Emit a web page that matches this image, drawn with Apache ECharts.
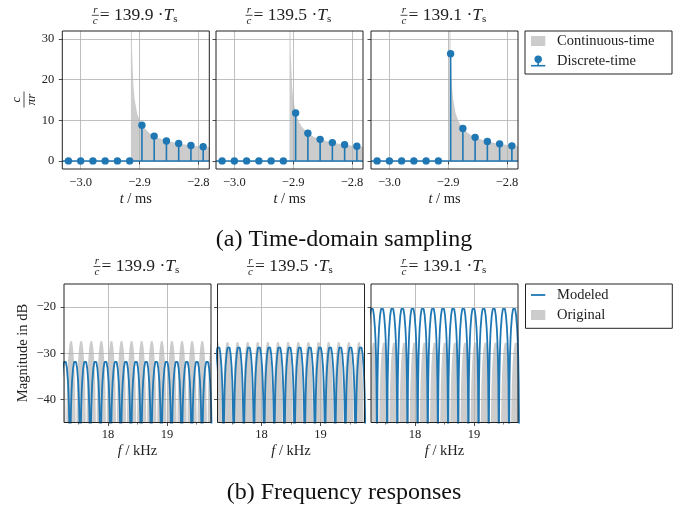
<!DOCTYPE html>
<html>
<head>
<meta charset="utf-8">
<title>Sampling and frequency responses</title>
<style>
  body { margin: 0; padding: 0; background: #fff; }
  #chart { width: 688px; height: 510px; }
</style>
</head>
<body>
<div id="chart"></div>
<script src="https://cdn.jsdelivr.net/npm/echarts@6/dist/echarts.min.js"></script>
<script>
var BLUE = '#1f77b4';
var GRAY = '#cccccc';
var INK = '#222';
var FONT = 'Liberation Serif';

// r/c of each column, in samples
var delayLabels = ['139.9', '139.5', '139.1'];
var delayValues = [139.9, 139.5, 139.1];

// (a) time domain
var fs = 48; // kHz -> samples per ms
var sampleIndex = [-145, -144, -143, -142, -141, -140, -139, -138, -137, -136, -135, -134];
var discrete1 = [0, 0, 0, 0, 0, 0, 8.8, 6.1, 4.9, 4.3, 3.8, 3.5];
var discrete2 = [0, 0, 0, 0, 0, 0, 11.8, 6.8, 5.3, 4.5, 4.0, 3.6];
var discrete3 = [0, 0, 0, 0, 0, 0, 26.4, 8.0, 5.8, 4.8, 4.2, 3.7];
var discrete = [discrete1, discrete2, discrete3];
// continuous-time curve: samples after onset, value
var contOffset = [0, 0.001, 0.01, 0.02, 0.05, 0.1, 0.2, 0.3, 0.5, 0.75, 1, 1.5, 2, 3, 4, 5, 6, 7];
var contValue = [0, 100, 83.6, 59.1, 37.4, 26.5, 18.7, 15.3, 11.8, 9.7, 8.4, 6.9, 5.9, 4.9, 4.2, 3.8, 3.45, 3.2];
var timeTicks = [-3.0, -2.9, -2.8];
var ampTicks = [0, 10, 20, 30];

// (b) frequency responses, kHz / dB
var modeledNulls = [17.179, 17.352, 17.525, 17.697, 17.870, 18.043, 18.215, 18.388, 18.561, 18.733, 18.906, 19.079, 19.252, 19.424, 19.597, 19.770];
var modeledPeak = [-31.5, -28.4, -20.0];
var originalNulls1 = [17.112, 17.284, 17.455, 17.627, 17.799, 17.970, 18.142, 18.313, 18.485, 18.656, 18.828, 18.999, 19.171, 19.343, 19.514, 19.686, 19.857];
var originalNulls2 = [17.161, 17.333, 17.505, 17.677, 17.849, 18.021, 18.193, 18.365, 18.537, 18.710, 18.882, 19.054, 19.226, 19.398, 19.570, 19.742, 19.914];
var originalNulls3 = [17.211, 17.383, 17.556, 17.728, 17.901, 18.073, 18.246, 18.419, 18.591, 18.764, 18.936, 19.109, 19.281, 19.454, 19.626, 19.799];
var originalNulls = [originalNulls1, originalNulls2, originalNulls3];
var originalPeak = [-27.0, -27.2, -27.3];
// shape of one lobe: position between two nulls, dB below the peak
var lobeFrac = [0, 0.02, 0.05, 0.1, 0.15, 0.2, 0.3, 0.4, 0.5, 0.6, 0.7, 0.8, 0.85, 0.9, 0.95, 0.98];
var lobeDrop = [-60, -24, -16.1, -10.2, -6.9, -4.6, -1.8, -0.4, 0, -0.4, -1.8, -4.6, -6.9, -10.2, -16.1, -24];
var freqTicks = [18, 19];
var freqMinorTicks = [17.5, 18.5, 19.5];
var dbTicks = [-40, -30, -20];

var chart = echarts.init(document.getElementById('chart'), null, { renderer: 'canvas', width: 688, height: 510 });

var topLeft = [62.3, 216, 371];
var botLeft = [64, 217.5, 371];
var PW = 147;

function minus(v) { return String(v).replace('-', '\u2212'); }

function lobes(nulls, peak) {
    var out = [];
    for (var k = 0; k < nulls.length - 1; k++) {
        for (var j = 0; j < lobeFrac.length; j++) {
            out.push([nulls[k] + lobeFrac[j] * (nulls[k + 1] - nulls[k]), peak + lobeDrop[j]]);
        }
    }
    out.push([nulls[nulls.length - 1], peak + lobeDrop[0]]);
    return out;
}

function axis(gi, min, max, step, ticks, fmt, showLabel, margin) {
    return {
        type: 'value', gridIndex: gi, min: min, max: max,
        minInterval: step, maxInterval: step, z: 1,
        axisLine: { show: false },
        axisTick: { show: true, length: 3.5, customValues: ticks, lineStyle: { color: INK, width: 0.8 } },
        axisLabel: {
            show: showLabel, customValues: ticks, formatter: fmt, margin: margin,
            fontFamily: FONT, fontSize: 12.5, color: INK
        },
        splitLine: { show: true, lineStyle: { color: '#b0b0b0', width: 0.8 } }
    };
}

function renderStem(params, api) {
    var base = api.coord([api.value(0), 0]);
    var tip = api.coord([api.value(0), api.value(1)]);
    return {
        type: 'line',
        shape: { x1: base[0], y1: base[1], x2: tip[0], y2: tip[1] },
        style: { stroke: BLUE, lineWidth: 1.6 }
    };
}

var grids = [], xAxes = [], yAxes = [], series = [], graphics = [];

for (var i = 0; i < 3; i++) {
    grids.push({
        left: topLeft[i], top: 31, width: PW, height: 138, show: true, z: 10,
        backgroundColor: 'rgba(0,0,0,0)', borderColor: INK, borderWidth: 1
    });
}
for (i = 0; i < 3; i++) {
    grids.push({
        left: botLeft[i], top: 284, width: PW, height: 138.5, show: true, z: 10,
        backgroundColor: 'rgba(0,0,0,0)', borderColor: INK, borderWidth: 1
    });
}

// top row: time-domain sampling
for (i = 0; i < 3; i++) {
    xAxes.push(axis(i, -145.5 / fs, -133.5 / fs, 0.1, timeTicks,
        function (v) { return minus(v.toFixed(1)); }, true, 7));
    yAxes.push(axis(i, -2, 32, 10, ampTicks,
        function (v) { return minus(v); }, i === 0, 8));

    var t0 = delayValues[i];
    series.push({
        type: 'line', xAxisIndex: i, yAxisIndex: i, z: 0, silent: true,
        showSymbol: false, clip: true,
        lineStyle: { width: 0, opacity: 0 },
        itemStyle: { color: GRAY },
        areaStyle: { color: GRAY, opacity: 1 },
        data: contOffset.map(function (o, j) { return [(o - t0) / fs, contValue[j]]; })
    });
    var pts = sampleIndex.map(function (n, j) { return [n / fs, discrete[i][j]]; });
    series.push({
        type: 'custom', xAxisIndex: i, yAxisIndex: i, z: 2, silent: true, clip: true,
        renderItem: renderStem, data: pts
    });
    series.push({
        type: 'scatter', xAxisIndex: i, yAxisIndex: i, z: 4, silent: true,
        symbolSize: 7.4, itemStyle: { color: BLUE, opacity: 1 }, data: pts,
        markLine: {
            silent: true, symbol: ['none', 'none'], label: { show: false },
            lineStyle: { color: BLUE, width: 1.6, type: 'solid' },
            data: [{ yAxis: 0 }]
        }
    });
}

// bottom row: frequency responses
for (i = 0; i < 3; i++) {
    var gi = 3 + i;
    xAxes.push(axis(gi, 17.25, 19.75, 1, freqTicks, function (v) { return String(v); }, true, 6));
    yAxes.push(axis(gi, -45, -15, 10, dbTicks, function (v) { return minus(v); }, i === 0, 8));
    series.push({
        type: 'line', xAxisIndex: gi, yAxisIndex: gi, z: 0, silent: true,
        showSymbol: false, clip: true,
        lineStyle: { width: 0, opacity: 0 },
        itemStyle: { color: GRAY },
        areaStyle: { color: GRAY, opacity: 1, origin: 'start' },
        data: lobes(originalNulls[i], originalPeak[i])
    });
    series.push({
        type: 'line', xAxisIndex: gi, yAxisIndex: gi, z: 3, silent: true,
        showSymbol: false, clip: true,
        lineStyle: { color: BLUE, width: 1.8 },
        itemStyle: { color: BLUE },
        data: lobes(modeledNulls, modeledPeak[i])
    });
}
// minor frequency ticks
for (i = 0; i < 3; i++) {
    xAxes.push({
        type: 'value', gridIndex: 3 + i, min: 17.25, max: 19.75, position: 'bottom', z: 1,
        axisLine: { show: false },
        axisTick: { show: true, length: 2, customValues: freqMinorTicks, lineStyle: { color: INK, width: 0.6 } },
        axisLabel: { show: false },
        splitLine: { show: false }
    });
}

// panel titles: r/c = ... Ts
function addTitle(cx, ty, label) {
    var fx = cx - 40.5;
    graphics.push({ type: 'text', x: fx, y: ty - 5.5, style: { text: 'r', font: 'italic 11px ' + FONT, fill: INK, align: 'center', verticalAlign: 'middle' } });
    graphics.push({ type: 'text', x: fx, y: ty + 5.5, style: { text: 'c', font: 'italic 11px ' + FONT, fill: INK, align: 'center', verticalAlign: 'middle' } });
    graphics.push({ type: 'line', shape: { x1: fx - 3.5, y1: ty, x2: fx + 3.5, y2: ty }, style: { stroke: INK, lineWidth: 0.8 } });
    graphics.push({
        type: 'text', x: cx - 36, y: ty,
        style: {
            text: '= ' + label + ' \u00b7{i|T}{s|s}', font: '17.5px ' + FONT, fill: INK,
            align: 'left', verticalAlign: 'middle',
            rich: {
                i: { fontFamily: FONT, fontSize: 17.5, fontStyle: 'italic', fill: INK },
                s: { fontFamily: FONT, fontSize: 11, fill: INK, padding: [8, 0, 0, 0] }
            }
        }
    });
}

for (i = 0; i < 3; i++) {
    addTitle(topLeft[i] + PW / 2, 15.3, delayLabels[i]);
    addTitle(botLeft[i] + PW / 2, 266.5, delayLabels[i]);
    graphics.push({
        type: 'text', x: topLeft[i] + PW / 2, y: 199,
        style: { text: '{i|t} / ms', font: '14.5px ' + FONT, fill: INK, align: 'center', verticalAlign: 'middle',
            rich: { i: { fontFamily: FONT, fontSize: 14.5, fontStyle: 'italic', fill: INK } } }
    });
    graphics.push({
        type: 'text', x: botLeft[i] + PW / 2, y: 451.5,
        style: { text: '{i|f} / kHz', font: '14.5px ' + FONT, fill: INK, align: 'center', verticalAlign: 'middle',
            rich: { i: { fontFamily: FONT, fontSize: 14.5, fontStyle: 'italic', fill: INK } } }
    });
}

// y labels
graphics.push({
    type: 'group', x: 24, y: 99.5, rotation: Math.PI / 2,
    children: [
        { type: 'text', x: 0, y: -7.5, style: { text: 'c', font: 'italic 13px ' + FONT, fill: INK, align: 'center', verticalAlign: 'middle' } },
        { type: 'line', shape: { x1: -8, y1: 0, x2: 8, y2: 0 }, style: { stroke: INK, lineWidth: 0.8 } },
        { type: 'text', x: 0, y: 7.5, style: { text: '\u03c0r', font: 'italic 13px ' + FONT, fill: INK, align: 'center', verticalAlign: 'middle' } }
    ]
});
graphics.push({
    type: 'text', x: 23.3, y: 353, rotation: Math.PI / 2,
    style: { text: 'Magnitude in dB', font: '14.5px ' + FONT, fill: INK, align: 'center', verticalAlign: 'middle' }
});

// captions
graphics.push({ type: 'text', x: 344, y: 240, style: { text: '(a) Time-domain sampling', font: '24px ' + FONT, fill: '#111', align: 'center', verticalAlign: 'middle' } });
graphics.push({ type: 'text', x: 344, y: 493, style: { text: '(b) Frequency responses', font: '24px ' + FONT, fill: '#111', align: 'center', verticalAlign: 'middle' } });

// legends
graphics.push({ type: 'rect', shape: { x: 525, y: 31, width: 147, height: 43 }, style: { fill: '#fff', stroke: INK, lineWidth: 1 } });
graphics.push({ type: 'rect', shape: { x: 531, y: 36, width: 14.3, height: 10 }, style: { fill: GRAY } });
graphics.push({ type: 'text', x: 557, y: 41.5, style: { text: 'Continuous-time', font: '14.5px ' + FONT, fill: INK, align: 'left', verticalAlign: 'middle' } });
graphics.push({ type: 'line', shape: { x1: 538.2, y1: 65.7, x2: 538.2, y2: 59.3 }, style: { stroke: BLUE, lineWidth: 1.6 } });
graphics.push({ type: 'line', shape: { x1: 531, y1: 65.7, x2: 545.3, y2: 65.7 }, style: { stroke: BLUE, lineWidth: 1.6 } });
graphics.push({ type: 'circle', shape: { cx: 538.2, cy: 59.3, r: 3.7 }, style: { fill: BLUE } });
graphics.push({ type: 'text', x: 557, y: 61.5, style: { text: 'Discrete-time', font: '14.5px ' + FONT, fill: INK, align: 'left', verticalAlign: 'middle' } });

graphics.push({ type: 'rect', shape: { x: 525.5, y: 284, width: 146.8, height: 44.3 }, style: { fill: '#fff', stroke: INK, lineWidth: 1 } });
graphics.push({ type: 'line', shape: { x1: 531, y1: 295, x2: 545.3, y2: 295 }, style: { stroke: BLUE, lineWidth: 1.8 } });
graphics.push({ type: 'text', x: 557, y: 295, style: { text: 'Modeled', font: '14.5px ' + FONT, fill: INK, align: 'left', verticalAlign: 'middle' } });
graphics.push({ type: 'rect', shape: { x: 531, y: 310, width: 14.3, height: 10 }, style: { fill: GRAY } });
graphics.push({ type: 'text', x: 557, y: 315.3, style: { text: 'Original', font: '14.5px ' + FONT, fill: INK, align: 'left', verticalAlign: 'middle' } });

chart.setOption({
    animation: false,
    backgroundColor: '#fff',
    grid: grids,
    xAxis: xAxes,
    yAxis: yAxes,
    series: series,
    graphic: graphics
});
</script>
</body>
</html>
